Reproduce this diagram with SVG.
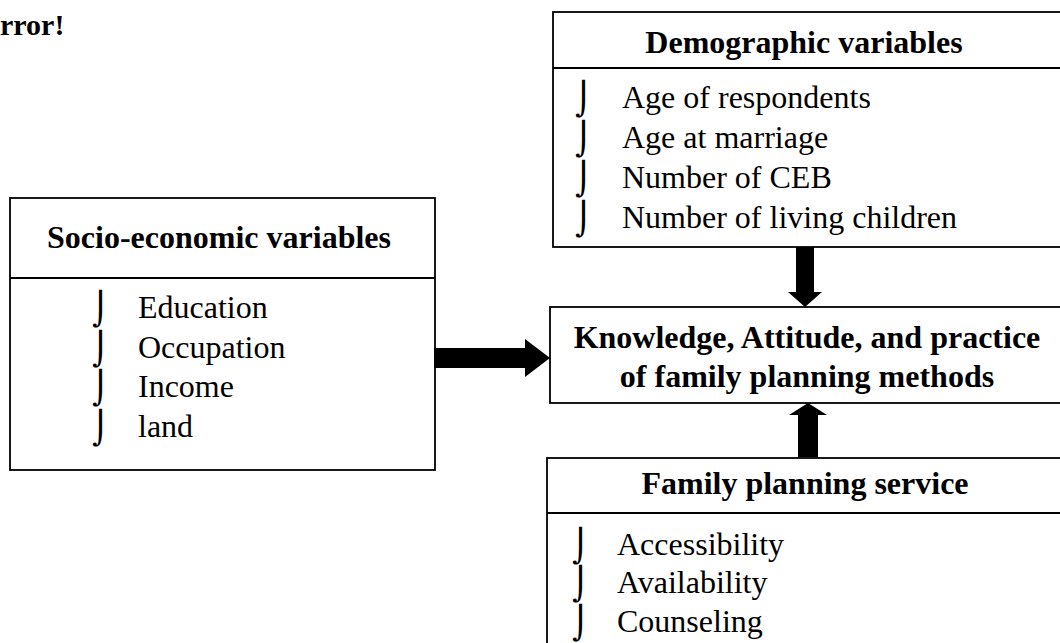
<svg xmlns="http://www.w3.org/2000/svg" width="1060" height="643" viewBox="0 0 1060 643">
<style>
.box{fill:#fff;stroke:#000;stroke-width:1.8}
.div{stroke:#000;stroke-width:1.8}
.t{font-family:"Liberation Serif","Times New Roman",serif;font-size:32px;fill:#000}
.b{font-weight:bold}
.m{text-anchor:middle}
.bul{font-family:"DejaVu Sans",sans-serif;font-size:32px;fill:#000}
.arr{fill:#000}
</style>
<rect width="1060" height="643" fill="#fff"/>
<text class="t b" x="0" y="35" style="font-size:30px">rror!</text>

<g id="demographic">
<rect class="box" x="553" y="12" width="510" height="235"/>
<line class="div" x1="553" y1="68" x2="1063" y2="68"/>
<text class="t b m" x="804" y="53">Demographic variables</text>
<text class="bul" x="575" y="110">⌡</text><text class="t" x="622" y="108">Age of respondents</text>
<text class="bul" x="575" y="150">⌡</text><text class="t" x="622" y="148">Age at marriage</text>
<text class="bul" x="575" y="190">⌡</text><text class="t" x="622" y="188">Number of CEB</text>
<text class="bul" x="575" y="230">⌡</text><text class="t" x="622" y="228">Number of living children</text>
</g>

<g id="socio">
<rect class="box" x="10" y="198" width="425" height="272"/>
<line class="div" x1="10" y1="278" x2="435" y2="278"/>
<text class="t b m" x="219" y="248">Socio-economic variables</text>
<text class="bul" x="92" y="320">⌡</text><text class="t" x="138" y="318">Education</text>
<text class="bul" x="92" y="360">⌡</text><text class="t" x="138" y="358">Occupation</text>
<text class="bul" x="92" y="399">⌡</text><text class="t" x="138" y="397">Income</text>
<text class="bul" x="92" y="439">⌡</text><text class="t" x="138" y="437">land</text>
</g>

<g id="kap">
<rect class="box" x="550" y="307" width="513" height="96"/>
<text class="t b m" x="807" y="348">Knowledge, Attitude, and practice</text>
<text class="t b m" x="807" y="387">of family planning methods</text>
</g>

<g id="fpservice">
<rect class="box" x="547" y="458" width="516" height="200"/>
<line class="div" x1="547" y1="513" x2="1063" y2="513"/>
<text class="t b m" x="805" y="494">Family planning service</text>
<text class="bul" x="572" y="557">⌡</text><text class="t" x="617" y="555">Accessibility</text>
<text class="bul" x="572" y="595">⌡</text><text class="t" x="617" y="593">Availability</text>
<text class="bul" x="572" y="634">⌡</text><text class="t" x="617" y="632">Counseling</text>
</g>

<g id="connectors">
<polygon class="arr" points="434,348 525,348 525,339 550,358 525,377 525,368 434,368"/>
<polygon class="arr" points="796,247 814,247 814,292 822,292 805,307 788,292 796,292"/>
<polygon class="arr" points="798,457 798,415 789,415 808,403 827,415 818,415 818,457"/>
</g>
</svg>
